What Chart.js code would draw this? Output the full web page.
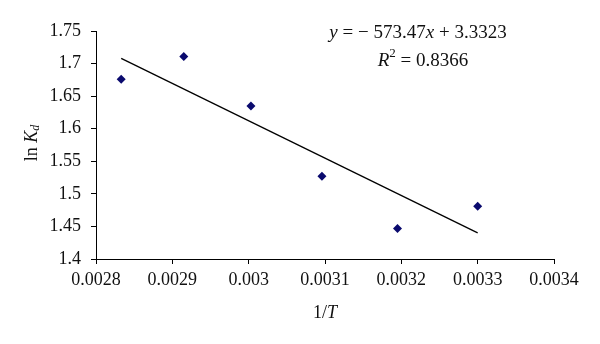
<!DOCTYPE html>
<html>
<head>
<meta charset="utf-8">
<script src="https://cdn.jsdelivr.net/npm/chart.js@4/dist/chart.umd.min.js"></script>
<style>
  html,body{margin:0;padding:0;background:#fff}
  #wrap{width:600px;height:344px;position:relative}
</style>
</head>
<body>
<div id="wrap"><canvas id="c"></canvas></div>
<script>
// data
const invT   = [0.002833, 0.002915, 0.003003, 0.003096, 0.003195, 0.0033]
const lnKd   = [1.676, 1.711, 1.635, 1.527, 1.447, 1.481]
const fitX   = [0.002833, 0.0033]
const fitY   = [1.708, 1.440]
const xTicks = [0.0028, 0.0029, 0.003, 0.0031, 0.0032, 0.0033, 0.0034]
const yTicks = [1.4, 1.45, 1.5, 1.55, 1.6, 1.65, 1.7, 1.75]

const SERIF = '"Liberation Serif", "DejaVu Serif", serif'
const FS = 18

function rich(ctx, parts, x, y, fs) {
  // measure then draw centred at x
  const fontOf = p => `${p.i?'italic ':''}${p.s?Math.round(fs*0.68):fs}px ${SERIF}`
  let w = 0
  parts.forEach(p => { ctx.font = fontOf(p); w += ctx.measureText(p.t).width })
  let cx = x - w/2
  parts.forEach(p => {
    ctx.font = fontOf(p)
    const dy = p.s==='sup' ? -7 : p.s==='sub' ? 4 : 0
    ctx.fillText(p.t, cx, y + dy)
    cx += ctx.measureText(p.t).width
  })
}

const labels = {
  id:'labels',
  afterDraw(chart) {
    const ctx = chart.ctx
    ctx.save()
    ctx.fillStyle = '#111'
    ctx.textBaseline = 'middle'
    ctx.textAlign = 'left'
    rich(ctx, [{t:'y',i:1},{t:' = − 573.47'},{t:'x',i:1},{t:' + 3.3323'}], 418, 33, 19)
    rich(ctx, [{t:'R',i:1},{t:'2',s:'sup'},{t:' = 0.8366'}], 423, 61, 19)
    rich(ctx, [{t:'1/'},{t:'T',i:1}], 325, 313, 18)
    ctx.translate(32, 143)
    ctx.rotate(-Math.PI/2)
    rich(ctx, [{t:'ln '},{t:'K',i:1},{t:'d',i:1,s:'sub'}], 0, 0, 18)
    ctx.restore()
  }
}

const axisCommon = {
  grid:{ display:true, drawOnChartArea:false, drawTicks:true, tickLength:5, color:'#000', lineWidth:1 },
  border:{ display:true, color:'#000', width:1 }
}

new Chart(document.getElementById('c'), {
  type:'scatter',
  data:{
    datasets:[
      { label:'ln Kd', data:invT.map((x,i)=>({x, y:lnKd[i]})),
        pointStyle:'rectRot', pointRadius:4.5, backgroundColor:'#0a0a6e', borderColor:'#0a0a6e', borderWidth:0 },
      { label:'fit', type:'line', data:fitX.map((x,i)=>({x, y:fitY[i]})),
        borderColor:'#000', borderWidth:1.3, pointRadius:0, fill:false }
    ]
  },
  options:{
    responsive:true, maintainAspectRatio:false, animation:false,
    layout:{ padding:{ left:0, top:31, right:46, bottom:0 } },
    plugins:{ legend:{display:false}, tooltip:{enabled:false} },
    scales:{
      x:{ ...axisCommon, type:'linear', min:0.0028, max:0.0034,
        afterBuildTicks:s=>{ s.ticks = xTicks.map(v=>({value:v})) },
        afterFit:s=>{ s.height = 85 },
        ticks:{ color:'#111', padding:5, font:{family:SERIF,size:FS}, maxRotation:0, callback:v=>String(+v.toFixed(4)) } },
      y:{ ...axisCommon, type:'linear', min:1.4, max:1.75,
        afterBuildTicks:s=>{ s.ticks = yTicks.map(v=>({value:v})) },
        afterFit:s=>{ s.width = 96 },
        ticks:{ color:'#111', padding:10, font:{family:SERIF,size:FS}, callback:v=>String(+v.toFixed(2)) } }
    }
  },
  plugins:[labels]
})
</script>
</body>
</html>
